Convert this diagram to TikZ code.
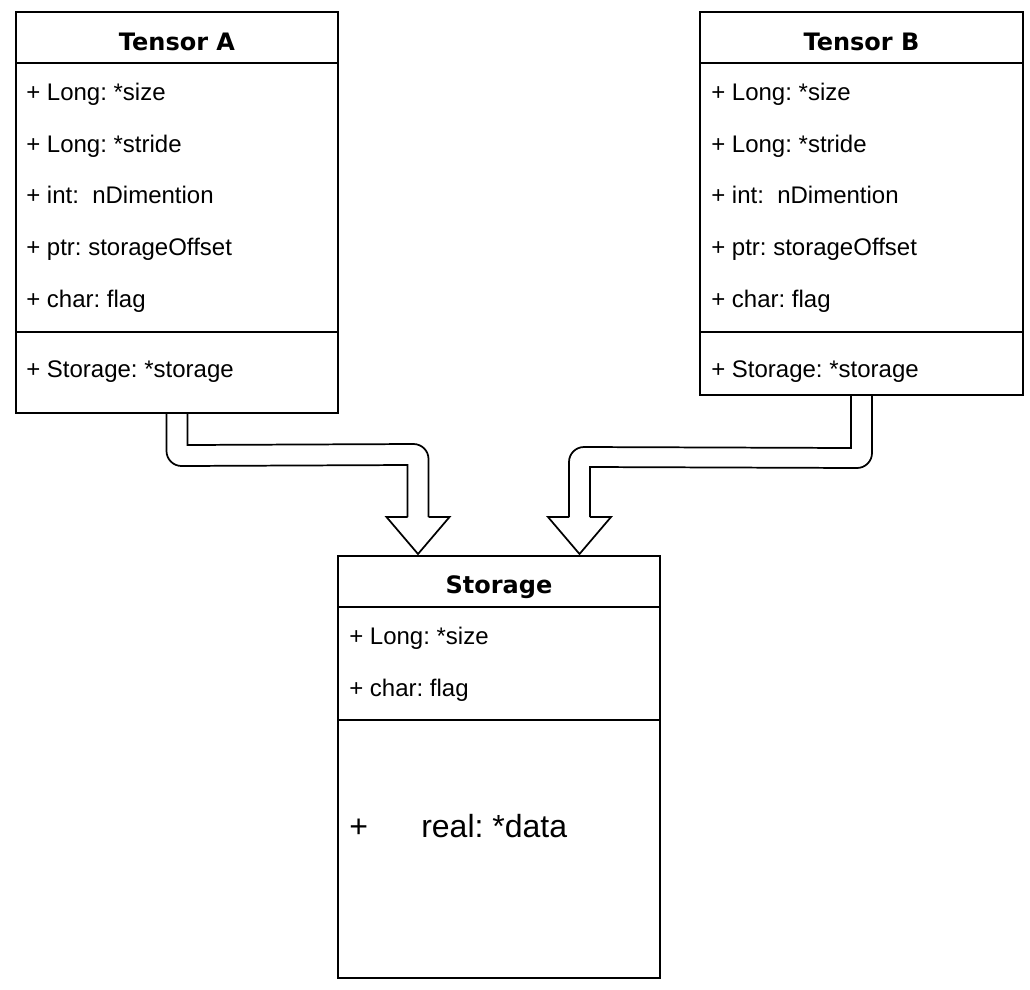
\documentclass[tikz,border=0pt]{standalone}
\usepackage{fontspec}
\setmainfont{Liberation Sans}
\newfontfamily\titlefont{DejaVu Sans}
\usetikzlibrary{calc}
\frenchspacing
\begin{document}
\begin{tikzpicture}[x=0.75pt,y=-0.75pt,
  classbox/.style={draw, line width=1.5pt, rectangle, inner sep=0pt},
  sepline/.style={line width=1.1pt},
  item/.style={anchor=base west, inner sep=0pt, font=\fontsize{18}{21}\selectfont},
  bigitem/.style={anchor=base west, inner sep=0pt, font=\fontsize{24}{28}\selectfont},
  ctitle/.style={anchor=base, inner sep=0pt, font=\titlefont\bfseries\fontsize{18}{21}\selectfont},
  edge/.style={line width=1.3pt, line join=miter}
]
\useasboundingbox (0,0) rectangle (1030,989);

% boxes
\node[classbox, minimum width=241.5pt, minimum height=300.75pt] (A) at (177,212.5) {};
\node[classbox, minimum width=242.25pt, minimum height=287.25pt] (B) at (861.5,203.5) {};
\node[classbox, minimum width=241.5pt, minimum height=316.5pt] (S) at (499,767) {};

% compartment lines
\draw[sepline] ($(A.north west)+(0,52)$) -- ($(A.north east)+(0,52)$);
\draw[sepline] ($(A.north west)+(0,321)$) -- ($(A.north east)+(0,321)$);
\draw[sepline] ($(B.north west)+(0,52)$) -- ($(B.north east)+(0,52)$);
\draw[sepline] ($(B.north west)+(0,321)$) -- ($(B.north east)+(0,321)$);
\draw[sepline] ($(S.north west)+(0,52)$) -- ($(S.north east)+(0,52)$);
\draw[sepline] ($(S.north west)+(0,165)$) -- ($(S.north east)+(0,165)$);

% Tensor A texts
\node[ctitle] (At) at (177,50) {Tensor A};
\node[item] (A1) at (26,100) {+ Long: *size};
\node[item] (A2) at (26,152) {+ Long: *stride};
\node[item] (A3) at (26,203) {+ int: \ nDimention};
\node[item] (A4) at (26,255) {+ ptr: storageOffset};
\node[item] (A5) at (26,307) {+ char: flag};
\node[item] (A6) at (26,377) {+ Storage: *storage};

% Tensor B texts
\node[ctitle] (Bt) at (861.5,50) {Tensor B};
\node[item] (B1) at (711,100) {+ Long: *size};
\node[item] (B2) at (711,152) {+ Long: *stride};
\node[item] (B3) at (711,203) {+ int: \ nDimention};
\node[item] (B4) at (711,255) {+ ptr: storageOffset};
\node[item] (B5) at (711,307) {+ char: flag};
\node[item] (B6) at (711,377) {+ Storage: *storage};

% Storage texts
\node[ctitle] (St) at (499,593) {Storage};
\node[item] (S1) at (349,644) {+ Long: *size};
\node[item] (S2) at (349,696) {+ char: flag};
\node[bigitem] (S3) at (349,837) {+\hspace*{40pt}real: *data};

% connector anchors
\coordinate (la) at ($(S.north)+(-81,-38)$);   % head base centre, left
\coordinate (lt) at ($(S.north)+(-81,-1)$);    % head tip, left
\coordinate (ra) at ($(S.north)+(80.5,-38)$);  % head base centre, right
\coordinate (rt) at ($(S.north)+(80.5,-1)$);   % head tip, right

% left hollow arrow (Tensor A -> Storage)
\draw[edge] ($(A.south)+(-10.5,0)$) -- ($(A.south)+(-10.5,37)$)
  arc[start angle=180, end angle=90, radius=15] -- ($(la)+(-10.5,-52)$) -- ($(la)+(-10.5,0)$);
\draw[edge] ($(A.south)+(10.5,0)$) -- ($(A.south)+(10.5,31)$) -- ($(la)+(-4.5,-73)$)
  arc[start angle=270, end angle=360, radius=15] -- ($(la)+(10.5,0)$);
\draw[edge] ($(la)+(-10.5,0)$) -- ($(la)+(-31.5,0)$) -- (lt) -- ($(la)+(31.5,0)$) -- ($(la)+(10.5,0)$);

% right hollow arrow (Tensor B -> Storage)
\draw[edge] ($(B.south)+(10.5,0)$) -- ($(B.south)+(10.5,57)$)
  arc[start angle=0, end angle=90, radius=15] -- ($(ra)+(10.5,-50)$) -- ($(ra)+(10.5,0)$);
\draw[edge] ($(B.south)+(-10.5,0)$) -- ($(B.south)+(-10.5,52)$) -- ($(ra)+(4.5,-70)$)
  arc[start angle=270, end angle=180, radius=15] -- ($(ra)+(-10.5,0)$);
\draw[edge] ($(ra)+(-10.5,0)$) -- ($(ra)+(-31.5,0)$) -- (rt) -- ($(ra)+(31.5,0)$) -- ($(ra)+(10.5,0)$);
\end{tikzpicture}
\end{document}
